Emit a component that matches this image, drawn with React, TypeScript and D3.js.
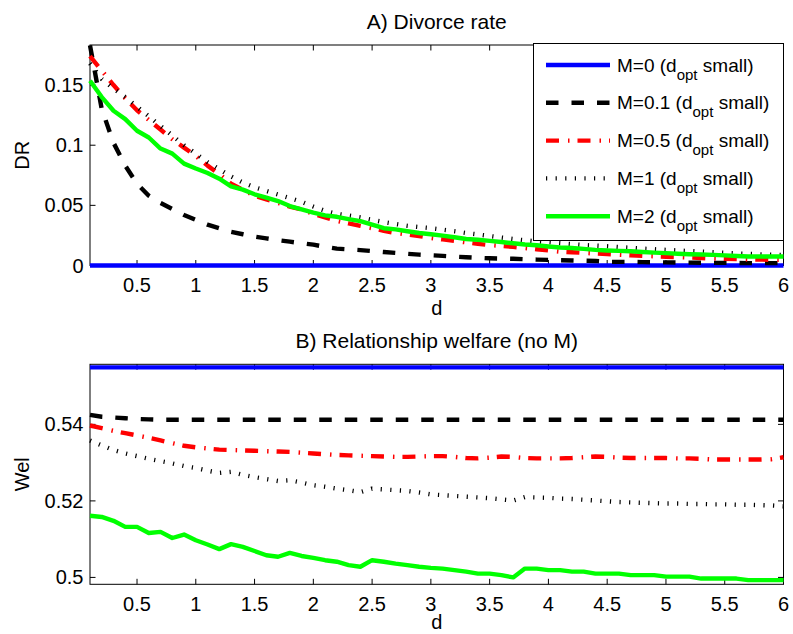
import * as d3 from "d3";

const W = 793;
const H = 634;
const FONT = "'Liberation Sans', Arial, Helvetica, sans-serif";

// d values shared by every series
const dValues = [
  0.1, 0.2, 0.3, 0.4, 0.5, 0.6, 0.7, 0.8, 0.9, 1.0,
  1.1, 1.2, 1.3, 1.4, 1.5, 1.6, 1.7, 1.8, 1.9, 2.0,
  2.1, 2.2, 2.3, 2.4, 2.5, 2.6, 2.7, 2.8, 2.9, 3.0,
  3.1, 3.2, 3.3, 3.4, 3.5, 3.6, 3.7, 3.8, 3.9, 4.0,
  4.1, 4.2, 4.3, 4.4, 4.5, 4.6, 4.7, 4.8, 4.9, 5.0,
  5.1, 5.2, 5.3, 5.4, 5.5, 5.6, 5.7, 5.8, 5.9, 6.0,
];

// A) Divorce rate
const drM0 = [
  0, 0, 0, 0, 0, 0, 0, 0, 0, 0,
  0, 0, 0, 0, 0, 0, 0, 0, 0, 0,
  0, 0, 0, 0, 0, 0, 0, 0, 0, 0,
  0, 0, 0, 0, 0, 0, 0, 0, 0, 0,
  0, 0, 0, 0, 0, 0, 0, 0, 0, 0,
  0, 0, 0, 0, 0, 0, 0, 0, 0, 0,
];
const drM01 = [
  0.183, 0.13, 0.102, 0.083, 0.068, 0.058, 0.052, 0.047, 0.042, 0.038,
  0.034, 0.031, 0.028, 0.026, 0.024, 0.0225, 0.021, 0.0198, 0.0185, 0.0173,
  0.0155, 0.014, 0.0134, 0.0128, 0.012, 0.0112, 0.0105, 0.0097, 0.009, 0.0085,
  0.008, 0.0074, 0.0069, 0.0064, 0.006, 0.0058, 0.0056, 0.0052, 0.0049, 0.0047,
  0.0044, 0.0042, 0.004, 0.0038, 0.003, 0.003, 0.003, 0.0028, 0.0027, 0.0026,
  0.0025, 0.0024, 0.0023, 0.0022, 0.0022, 0.0021, 0.002, 0.002, 0.002, 0.002,
];
const drM05 = [
  0.174, 0.162, 0.15, 0.139, 0.129, 0.121, 0.113, 0.105, 0.098, 0.091,
  0.083, 0.076, 0.068, 0.063, 0.058, 0.055, 0.052, 0.049, 0.0465, 0.043,
  0.04, 0.037, 0.035, 0.033, 0.031, 0.0288, 0.027, 0.0258, 0.0245, 0.0228,
  0.0217, 0.0205, 0.0192, 0.018, 0.017, 0.0163, 0.0155, 0.0145, 0.0135, 0.0125,
  0.0115, 0.011, 0.0105, 0.01, 0.0095, 0.009, 0.0085, 0.008, 0.0077, 0.0073,
  0.007, 0.0066, 0.0062, 0.0058, 0.0055, 0.0053, 0.005, 0.0049, 0.0048, 0.0047,
];
const drM1 = [
  0.168, 0.155, 0.147, 0.14, 0.132, 0.124, 0.116, 0.108, 0.1, 0.093,
  0.086, 0.08, 0.074, 0.069, 0.065, 0.062, 0.059, 0.056, 0.053, 0.049,
  0.0455, 0.043, 0.0415, 0.04, 0.038, 0.036, 0.0345, 0.033, 0.032, 0.031,
  0.0298, 0.0285, 0.027, 0.0258, 0.0245, 0.0232, 0.022, 0.021, 0.02, 0.0194,
  0.0185, 0.0178, 0.017, 0.0165, 0.016, 0.0153, 0.0147, 0.014, 0.0135, 0.013,
  0.0125, 0.012, 0.0115, 0.011, 0.0105, 0.01, 0.0097, 0.0093, 0.009, 0.0087,
];
const drM2 = [
  0.1536, 0.14, 0.1286, 0.1217, 0.112, 0.1064, 0.0972, 0.093, 0.0847, 0.0806,
  0.0769, 0.0722, 0.0658, 0.0631, 0.0592, 0.0564, 0.0536, 0.0494, 0.0467, 0.0439,
  0.0417, 0.0405, 0.0385, 0.0369, 0.034, 0.031, 0.03, 0.0285, 0.027, 0.026,
  0.0248, 0.0235, 0.022, 0.0214, 0.0205, 0.0195, 0.0185, 0.0175, 0.0168, 0.0158,
  0.015, 0.0145, 0.0138, 0.013, 0.0125, 0.0122, 0.0118, 0.0112, 0.0107, 0.0103,
  0.0098, 0.0094, 0.0092, 0.0088, 0.0084, 0.0079, 0.0075, 0.0075, 0.0075, 0.0075,
];

// B) Relationship welfare
const welM0 = [
  0.5549, 0.5549, 0.5549, 0.5549, 0.5549, 0.5549, 0.5549, 0.5549, 0.5549, 0.5549,
  0.5549, 0.5549, 0.5549, 0.5549, 0.5549, 0.5549, 0.5549, 0.5549, 0.5549, 0.5549,
  0.5549, 0.5549, 0.5549, 0.5549, 0.5549, 0.5549, 0.5549, 0.5549, 0.5549, 0.5549,
  0.5549, 0.5549, 0.5549, 0.5549, 0.5549, 0.5549, 0.5549, 0.5549, 0.5549, 0.5549,
  0.5549, 0.5549, 0.5549, 0.5549, 0.5549, 0.5549, 0.5549, 0.5549, 0.5549, 0.5549,
  0.5549, 0.5549, 0.5549, 0.5549, 0.5549, 0.5549, 0.5549, 0.5549, 0.5549, 0.5549,
];
const welM01 = [
  0.5425, 0.542, 0.5418, 0.5416, 0.5414, 0.5413, 0.5412, 0.5412, 0.5412, 0.5412,
  0.5412, 0.5412, 0.5412, 0.5412, 0.5412, 0.5412, 0.5412, 0.5412, 0.5412, 0.5412,
  0.5412, 0.5412, 0.5412, 0.5412, 0.5412, 0.5412, 0.5412, 0.5412, 0.5412, 0.5412,
  0.5412, 0.5412, 0.5412, 0.5412, 0.5412, 0.5412, 0.5412, 0.5412, 0.5412, 0.5412,
  0.5412, 0.5412, 0.5412, 0.5412, 0.5412, 0.5412, 0.5412, 0.5412, 0.5412, 0.5412,
  0.5412, 0.5412, 0.5412, 0.5412, 0.5412, 0.5412, 0.5412, 0.5412, 0.5412, 0.5412,
];
const welM05 = [
  0.5397, 0.539, 0.5383, 0.5377, 0.5371, 0.5365, 0.5358, 0.5351, 0.5344, 0.534,
  0.5337, 0.5334, 0.5333, 0.5332, 0.5331, 0.533, 0.5329, 0.5328, 0.5326, 0.5324,
  0.5322, 0.532, 0.5319, 0.5318, 0.5317, 0.5316, 0.5315, 0.5315, 0.5316, 0.5317,
  0.5317, 0.5315, 0.5312, 0.5311, 0.5313, 0.5316, 0.5315, 0.5312, 0.5311, 0.5311,
  0.5311, 0.5312, 0.5314, 0.5316, 0.5315, 0.5313, 0.5312, 0.5312, 0.5312, 0.5312,
  0.5311, 0.5311, 0.531, 0.5308, 0.5308, 0.5308, 0.5308, 0.5308, 0.5309, 0.5314,
];
const welM1 = [
  0.5358, 0.5345, 0.5333, 0.5324, 0.5317, 0.531, 0.5304, 0.5298, 0.5291, 0.5286,
  0.5279, 0.5273, 0.5276, 0.5268, 0.5262, 0.5257, 0.5252, 0.5254, 0.5248, 0.5241,
  0.5237, 0.5232, 0.5228, 0.5223, 0.5232, 0.523, 0.5228, 0.5226, 0.5222, 0.5217,
  0.5215, 0.5213, 0.5211, 0.5209, 0.5207, 0.5204, 0.5201, 0.521, 0.5209, 0.5208,
  0.5206, 0.5205, 0.5203, 0.5201, 0.5199, 0.5197, 0.5196, 0.5195, 0.5194, 0.5193,
  0.5193, 0.5192, 0.5192, 0.5191, 0.5191, 0.519, 0.519, 0.5189, 0.5188, 0.5186,
];
const welM2 = [
  0.5161, 0.5158, 0.5148, 0.5132, 0.5132, 0.5116, 0.5119, 0.5103, 0.5112, 0.5097,
  0.5086, 0.5074, 0.5087, 0.508, 0.5069, 0.5058, 0.5054, 0.5064, 0.5056, 0.5051,
  0.5045, 0.5041, 0.5032, 0.5028, 0.5045, 0.5041, 0.5036, 0.5032, 0.5028, 0.5025,
  0.5023, 0.5019, 0.5015, 0.501, 0.501, 0.5006, 0.5, 0.5023, 0.5023, 0.5019,
  0.5019, 0.5015, 0.5015, 0.501, 0.501, 0.501, 0.5006, 0.5006, 0.5006, 0.5002,
  0.5002, 0.5002, 0.4997, 0.4997, 0.4997, 0.4997, 0.4993, 0.4993, 0.4993, 0.4993,
];

const legendLabels = ["M=0", "M=0.1", "M=0.5", "M=1", "M=2"];
const xTicks = [0.5, 1, 1.5, 2, 2.5, 3, 3.5, 4, 4.5, 5, 5.5, 6];
const xTickLabels = ["0.5", "1", "1.5", "2", "2.5", "3", "3.5", "4", "4.5", "5", "5.5", "6"];
const drTicks = [0, 0.05, 0.1, 0.15];
const drTickLabels = ["0", "0.05", "0.1", "0.15"];
const welTicks = [0.5, 0.52, 0.54];
const welTickLabels = ["0.5", "0.52", "0.54"];

// line styles, same order as the legend
const STYLES = [
  { color: "#0000ff", dash: "none" },
  { color: "#000000", dash: "12.5,13" },
  { color: "#ff0000", dash: "13,9,1.5,8" },
  { color: "#000000", dash: "1.2,8.4" },
  { color: "#00ff00", dash: "none" },
];
const LW = 4.4;

const LEFT = 90;
const RIGHT = 783.5;
const TICK = 5.5;

const xScale = d3.scaleLinear().domain([0.1, 6]).range([LEFT, RIGHT]);

const Panel = ({ top, bottom, yDomain, series, yTicks, yTickLabels, title, yLabel, xLabelGap }) => {
  const yScale = d3.scaleLinear().domain(yDomain).range([bottom, top]);
  const line = d3
    .line<number>()
    .x((_, i) => xScale(dValues[i]))
    .y((v) => yScale(v));
  const midY = (top + bottom) / 2;
  return (
    <g>
      {/* box */}
      <rect x={LEFT} y={top} width={RIGHT - LEFT} height={bottom - top} fill="white" stroke="black" strokeWidth={1} />
      {xTicks.map((t, i) => (
        <g key={"x" + i}>
          <line x1={xScale(t)} x2={xScale(t)} y1={bottom} y2={bottom - TICK} stroke="black" />
          <line x1={xScale(t)} x2={xScale(t)} y1={top} y2={top + TICK} stroke="black" />
          <text x={xScale(t)} y={bottom + 26.5} textAnchor="middle" fontSize={20} fontFamily={FONT}>
            {xTickLabels[i]}
          </text>
        </g>
      ))}
      {yTicks.map((t, i) => (
        <g key={"y" + i}>
          <line x1={LEFT} x2={LEFT + TICK} y1={yScale(t)} y2={yScale(t)} stroke="black" />
          <line x1={RIGHT} x2={RIGHT - TICK} y1={yScale(t)} y2={yScale(t)} stroke="black" />
          <text x={83.5} y={yScale(t) + 7} textAnchor="end" fontSize={20} fontFamily={FONT}>
            {yTickLabels[i]}
          </text>
        </g>
      ))}
      {series.map((s, i) => (
        <path
          key={i}
          d={line(s)}
          fill="none"
          stroke={STYLES[i].color}
          strokeWidth={LW}
          strokeDasharray={STYLES[i].dash}
          strokeLinejoin="round"
        />
      ))}
      <text x={(LEFT + RIGHT) / 2} y={top - 16} textAnchor="middle" fontSize={21} fontFamily={FONT}>
        {title}
      </text>
      <text x={(LEFT + RIGHT) / 2} y={bottom + xLabelGap} textAnchor="middle" fontSize={20} fontFamily={FONT}>
        d
      </text>
      <text
        transform={`translate(28.5,${midY}) rotate(-90)`}
        textAnchor="middle"
        fontSize={20}
        fontFamily={FONT}
      >
        {yLabel}
      </text>
    </g>
  );
};

const Legend = () => {
  const x0 = 533.5;
  const y0 = 43.5;
  return (
    <g>
      <rect x={x0} y={y0} width={RIGHT - x0} height={197} fill="white" stroke="black" strokeWidth={1} />
      {legendLabels.map((lab, i) => {
        const cy = 65 + i * 37.8;
        return (
          <g key={i}>
            <line
              x1={546}
              x2={610}
              y1={cy}
              y2={cy}
              stroke={STYLES[i].color}
              strokeWidth={LW}
              strokeDasharray={STYLES[i].dash}
            />
            <text x={617} y={cy + 6.5} fontSize={19} fontFamily={FONT} style={{ whiteSpace: "pre" }}>
              {lab + " (d"}
              <tspan fontSize={15} dy={8}>opt</tspan>
              <tspan dy={-8}>{" small)"}</tspan>
            </text>
          </g>
        );
      })}
    </g>
  );
};

export default function App() {
  return (
    <svg
      width={W}
      height={H}
      style={{ position: "absolute", left: 0, top: 0, background: "white" }}
    >
      <rect width={W} height={H} fill="white" />
      <Panel
        top={45}
        bottom={265.5}
        yDomain={[0, 0.1833]}
        series={[drM0, drM01, drM05, drM1, drM2]}
        yTicks={drTicks}
        yTickLabels={drTickLabels}
        title="A) Divorce rate"
        yLabel="DR"
        xLabelGap={49.2}
      />
      <Legend />
      <Panel
        top={364.3}
        bottom={584.3}
        yDomain={[0.4982, 0.5557]}
        series={[welM0, welM01, welM05, welM1, welM2]}
        yTicks={welTicks}
        yTickLabels={welTickLabels}
        title="B) Relationship welfare (no M)"
        yLabel="Wel"
        xLabelGap={44.5}
      />
    </svg>
  );
}
